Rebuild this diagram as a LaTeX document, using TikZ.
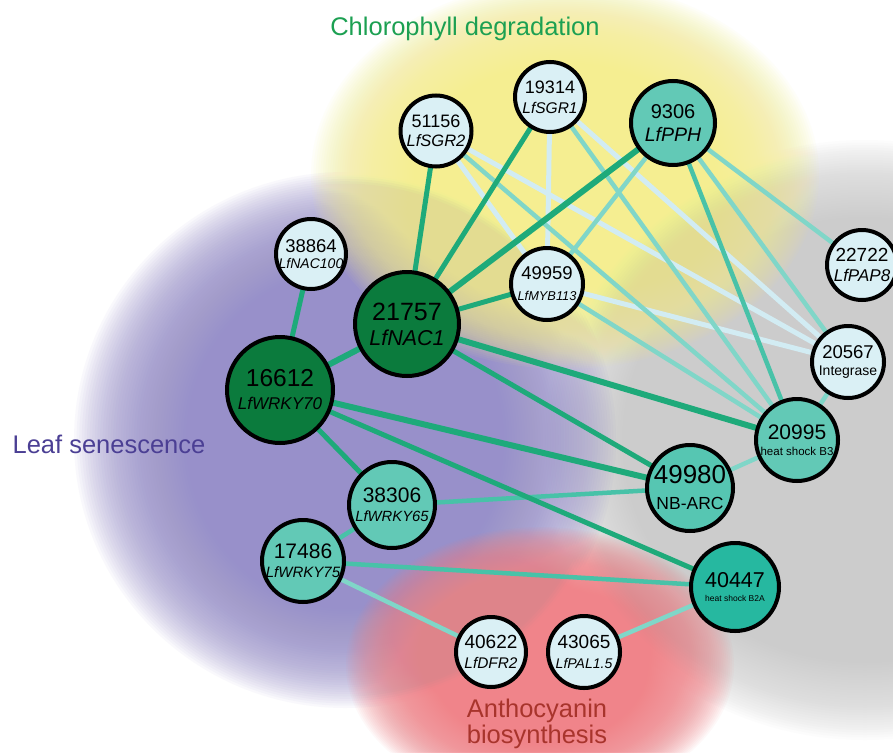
\documentclass[tikz,border=0pt]{standalone}
\usepackage{fontspec}
\setmainfont{Liberation Sans}

\definecolor{palefill}{RGB}{218,240,245}
\definecolor{tealfill}{RGB}{98,201,182}
\definecolor{deepteal}{RGB}{38,184,160}
\definecolor{darkfill}{RGB}{11,123,61}
\definecolor{greenline}{RGB}{30,170,122}
\definecolor{tealline}{RGB}{72,194,168}
\definecolor{lighttealline}{RGB}{128,214,200}
\definecolor{paleline}{RGB}{210,236,243}
\definecolor{blobpurple}{RGB}{152,144,202}
\definecolor{blobyellow}{RGB}{245,238,145}
\definecolor{blobgrey}{RGB}{204,204,204}
\definecolor{blobred}{RGB}{240,132,138}
\definecolor{chlgreen}{RGB}{28,160,82}
\definecolor{leafblue}{RGB}{75,63,148}
\definecolor{anthred}{RGB}{168,52,44}

\pgfdeclarelayer{blobs}
\pgfdeclarelayer{edges}
\pgfsetlayers{blobs,edges,main}

\newcommand{\sz}[2]{\fontsize{#1}{#2}\selectfont}

\begin{document}
\begin{tikzpicture}[x=1pt, y=-1pt,
  gene/.style={circle, draw=black, line width=4pt, inner sep=0pt, outer sep=0pt},
  palenode/.style={gene, fill=palefill},
  tealnode/.style={gene, fill=tealfill},
  darknode/.style={gene, fill=darkfill},
  genetext/.style={align=center, inner sep=0pt},
  bigline/.style={draw=greenline, line width=6pt},
  greenlink/.style={draw=greenline, line width=5pt},
  teallink/.style={draw=tealline, line width=4.5pt},
  lightlink/.style={draw=lighttealline, line width=4.5pt},
  palelink/.style={draw=paleline, line width=5pt},
  group/.style={inner sep=0pt, align=center},
  haze/.style={fill opacity=0.055}]

\useasboundingbox (0,0) rectangle (893,752);

\begin{pgfonlayer}{blobs}
\fill[white] (0,0) rectangle (893,752);
\foreach \k in {0,...,60} {
  \fill[blobgrey, haze] (865,440) ellipse [x radius=170+2.5*\k, y radius=150+2.5*\k];
}
\foreach \k in {0,...,60} {
  \fill[blobpurple, haze] (345,440) ellipse [x radius=115+2.6*\k, y radius=130+2.3*\k];
}
\foreach \k in {0,...,60} {
  \fill[blobyellow, haze] (565,175) ellipse [x radius=110+2.4*\k, y radius=80+1.9*\k];
}
\foreach \k in {0,...,60} {
  \fill[blobred, haze] (540,665) ellipse [x radius=80+1.9*\k, y radius=60+1.3*\k];
}
\end{pgfonlayer}

\node[group, anchor=base, text=chlgreen, font=\sz{25.5}{27}] (chl) at (465,36) {Chlorophyll degradation};
\node[group, anchor=base, text=leafblue, font=\sz{25.5}{27}] (leaf) at (109,453) {Leaf senescence};
\node[group, anchor=north, text=anthred, font=\sz{25.5}{26}] (anth) at (537,699) {Anthocyanin\\biosynthesis};

\node[palenode, minimum size=71, label={[genetext, font=\sz{18}{19}]center:{51156\\\sz{16.5}{19}\itshape LfSGR2}}] (sgr2) at (436,131) {};
\node[palenode, minimum size=70, label={[genetext, font=\sz{18}{20}]center:{19314\\\sz{15.5}{20}\itshape LfSGR1}}] (sgr1) at (550,97) {};
\node[tealnode, minimum size=84, label={[genetext, font=\sz{20}{23}]center:{9306\\\sz{19.5}{23}\itshape LfPPH}}] (pph) at (673,123) {};
\node[palenode, minimum size=70, label={[genetext, font=\sz{18.5}{16}]center:{38864\\\sz{14}{16}\itshape LfNAC100}}] (nac100) at (311,254) {};
\node[darknode, minimum size=104, label={[genetext, font=\sz{25}{25}]center:{21757\\\sz{21.5}{25}\itshape LfNAC1}}] (nac1) at (407,324) {};
\node[palenode, minimum size=72, label={[genetext, font=\sz{18.5}{21}]center:{49959\\\sz{12.8}{21}\itshape LfMYB113}}] (myb113) at (547,284) {};
\node[palenode, minimum size=70, label={[genetext, font=\sz{19}{20}]center:{22722\\\sz{17}{20}\itshape LfPAP8}}] (pap8) at (862,265) {};
\node[palenode, minimum size=72, label={[genetext, font=\sz{18.5}{17}]center:{20567\\\sz{14}{17}Integrase}}] (integrase) at (848,362) {};
\node[darknode, minimum size=106, label={[genetext, font=\sz{24.5}{23}]center:{16612\\\sz{17}{23}\itshape LfWRKY70}}] (wrky70) at (280,390) {};
\node[tealnode, minimum size=82, label={[genetext, font=\sz{21}{16}]center:{20995\\\sz{11.5}{16}heat shock B3}}] (hsb3) at (797,440) {};
\node[tealnode, fill=tealfill!80!deepteal, minimum size=86, label={[genetext, font=\sz{26}{26}]center:{49980\\\sz{17.5}{26}NB-ARC}}] (nbarc) at (690,488) {};
\node[tealnode, minimum size=86, label={[genetext, font=\sz{21}{19}]center:{38306\\\sz{14.8}{19}\itshape LfWRKY65}}] (wrky65) at (392,505) {};
\node[tealnode, minimum size=82, label={[genetext, font=\sz{21}{19}]center:{17486\\\sz{15}{19}\itshape LfWRKY75}}] (wrky75) at (303,561) {};
\node[tealnode, fill=deepteal, minimum size=88, label={[genetext, font=\sz{21.5}{14}]center:{40447\\\sz{8.5}{14}heat shock B2A}}] (hsb2a) at (735,587) {};
\node[palenode, minimum size=70, label={[genetext, font=\sz{19}{20}]center:{40622\\\sz{15.4}{20}\itshape LfDFR2}}] (dfr2) at (491,652) {};
\node[palenode, minimum size=72, label={[genetext, font=\sz{19}{20}]center:{43065\\\sz{14}{20}\itshape LfPAL1.5}}] (pal15) at (584,652) {};

\begin{pgfonlayer}{edges}
\path[palelink] (sgr2) -- (myb113);
\path[palelink] (sgr2) -- (integrase);
\path[palelink] (sgr1) -- (myb113);
\path[palelink] (sgr1) -- (integrase);
\path[palelink] (myb113) -- (integrase);
\path[lightlink] (sgr2) -- (hsb3);
\path[lightlink] (sgr1) -- (hsb3);
\path[lightlink] (myb113) -- (hsb3);
\path[lightlink] (pph) -- (myb113);
\path[lightlink] (pph) -- (integrase);
\path[lightlink] (pph) -- (pap8);
\path[lightlink] (integrase) -- (hsb3);
\path[lightlink] (nbarc) -- (hsb3);
\path[lightlink] (wrky75) -- (dfr2);
\path[lightlink] (hsb2a) -- (pal15);
\path[teallink] (pph) -- (hsb3);
\path[teallink] (wrky65) -- (nbarc);
\path[teallink] (wrky65) -- (wrky75);
\path[teallink] (wrky75) -- (hsb2a);
\path[greenlink] (nac1) -- (sgr2);
\path[greenlink] (nac1) -- (sgr1);
\path[greenlink] (nac1) -- (myb113);
\path[greenlink] (nac1) -- (nbarc);
\path[greenlink] (wrky70) -- (nac100);
\path[greenlink] (wrky70) -- (wrky65);
\path[greenlink] (wrky70) -- (hsb2a);
\path[bigline] (nac1) -- (pph);
\path[bigline] (nac1) -- (wrky70);
\path[bigline] (nac1) -- (hsb3);
\path[bigline] (wrky70) -- (nbarc);
\end{pgfonlayer}
\end{tikzpicture}
\end{document}
